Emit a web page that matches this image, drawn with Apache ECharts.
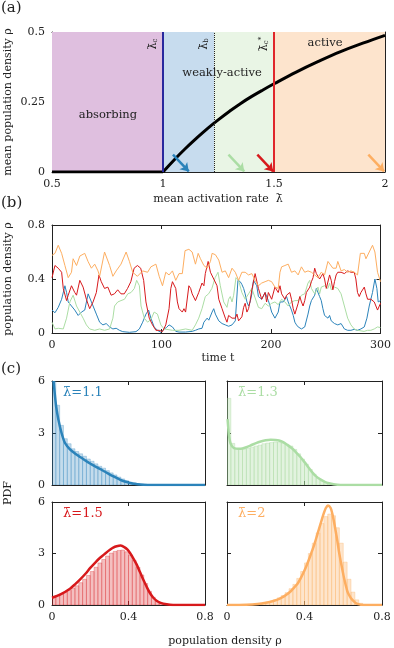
<!DOCTYPE html>
<html>
<head>
<meta charset="utf-8">
<script src="https://cdn.jsdelivr.net/npm/echarts@6/dist/echarts.min.js"></script>
<style>
  html, body { margin: 0; padding: 0; background: #fff; }
  #chart { width: 394px; height: 648px; }
</style>
</head>
<body>
<div id="chart"></div>
<script>
// ---- panel (a): mean density vs mean activation rate ----
const lambdaGrid = [0.5, 1.0, 1.05, 1.1, 1.15, 1.2, 1.25, 1.3, 1.35, 1.4, 1.45, 1.5, 1.6, 1.7, 1.8, 1.9, 2.0];
const rhoMean = [0, 0, 0.043, 0.083, 0.12, 0.155, 0.187, 0.217, 0.245, 0.27, 0.293, 0.315, 0.357, 0.395, 0.43, 0.46, 0.488];
const phaseEdges = [0.5, 1.0, 1.23, 1.5, 2.0];
const phaseColors = ['#dfbfdf', '#c7dcee', '#e9f5e5', '#fde4cd'];
const arrowLambda = [1.12, 1.37, 1.5, 2.0];

// ---- panel (b): time series, [t, rho] ----
const tsBlue = [[0,0.17],[2.7,0.15],[5.7,0.19],[8.8,0.25],[11.8,0.35],[13.3,0.3],[14.8,0.23],[17.8,0.2],[20.8,0.17],[23.9,0.13],[26.9,0.155],[29.9,0.17],[33,0.29],[36,0.23],[37.5,0.22],[40.5,0.14],[43.5,0.08],[46.5,0.06],[49.5,0.07],[52.6,0.045],[55.6,0.03],[58.6,0.035],[61.6,0.02],[64.6,0.01],[70.7,0.005],[76.7,0.01],[79.8,0.03],[82.8,0.08],[85.8,0.14],[88.2,0.17],[90.3,0.11],[93.3,0.045],[96.3,0.02],[99.4,0.005],[102.4,0.03],[104.5,0.04],[106.9,0.06],[108.5,0.07],[110,0.045],[113,0.012],[116,0.007],[122,0.007],[128,0.012],[131,0.02],[134,0.03],[137,0.035],[138.7,0.08],[141.7,0.11],[143.2,0.095],[146.2,0.155],[147.7,0.18],[149.2,0.14],[152.3,0.09],[155.3,0.07],[158.3,0.06],[161.3,0.05],[164.4,0.06],[167.4,0.09],[169.8,0.39],[171.9,0.38],[173.4,0.36],[175,0.33],[176.4,0.29],[178,0.23],[179.5,0.2],[181,0.23],[182.5,0.29],[184,0.39],[185.5,0.4],[187,0.35],[188.5,0.27],[191.5,0.25],[194.6,0.3],[196,0.31],[197.6,0.24],[199.1,0.2],[200.6,0.155],[203.6,0.11],[205.1,0.12],[206.6,0.155],[208.2,0.23],[209.7,0.24],[211.2,0.23],[212.7,0.25],[214.2,0.27],[215.7,0.23],[217.2,0.2],[218.7,0.17],[220.3,0.13],[221.8,0.08],[223.3,0.06],[224.8,0.045],[227.8,0.03],[230.8,0.045],[233.8,0.14],[235.4,0.2],[236.9,0.24],[239.9,0.28],[241.4,0.33],[242.9,0.34],[244.4,0.27],[245.9,0.24],[247.4,0.18],[248.9,0.13],[250.5,0.12],[252,0.11],[253.5,0.13],[255,0.09],[258,0.07],[261,0.06],[264,0.07],[267,0.03],[270,0.02],[273,0.02],[276,0.027],[279,0.02],[282.1,0.03],[285.2,0.045],[287.6,0.11],[289.7,0.2],[292.7,0.3],[294.9,0.4],[296.7,0.33],[297.9,0.23],[300,0.24]];
const tsGreen = [[0,0.08],[2.7,0.03],[5.7,0.035],[10.3,0.03],[13.3,0.11],[16.3,0.23],[19.3,0.28],[22.4,0.2],[25.4,0.155],[28.4,0.11],[31.4,0.06],[34.4,0.03],[39,0.02],[43.5,0.03],[48,0.02],[52.6,0.03],[55.6,0.11],[57.1,0.2],[60.1,0.23],[63,0.24],[66.2,0.25],[69.2,0.29],[72.2,0.3],[75.2,0.33],[77.3,0.39],[79.8,0.35],[81.3,0.2],[84.3,0.11],[87.3,0.08],[90.3,0.1],[93.3,0.155],[96.3,0.14],[99.4,0.06],[102.4,0.03],[104,0.02],[110,0.02],[116,0.02],[122,0.03],[128,0.02],[131,0.06],[134,0.11],[137,0.18],[140,0.27],[143,0.29],[146,0.33],[149,0.41],[151.6,0.45],[153.7,0.35],[156.8,0.23],[159.8,0.19],[161.3,0.25],[162.8,0.27],[164.4,0.23],[165.9,0.28],[168,0.41],[170.4,0.39],[173.4,0.3],[176.4,0.25],[179.5,0.29],[182.5,0.33],[185.5,0.26],[188.5,0.19],[191.5,0.18],[194.6,0.22],[197.6,0.2],[200.6,0.22],[203.6,0.23],[206.6,0.21],[209.7,0.25],[212.7,0.23],[215.7,0.2],[218.7,0.23],[221.8,0.24],[224.8,0.24],[227.8,0.28],[230.8,0.29],[233.8,0.37],[235.4,0.39],[236.9,0.33],[239.9,0.29],[242.9,0.34],[244.4,0.29],[245.9,0.34],[248.9,0.35],[252,0.33],[253.5,0.37],[255,0.32],[258,0.34],[261,0.33],[264,0.29],[267,0.2],[270,0.11],[273,0.06],[276,0.03],[279,0.02],[285,0.012],[288.2,0.02],[291.2,0.02],[294.3,0.03],[297.3,0.045],[300,0.04]];
const tsRed = [[0,0.41],[2.7,0.5],[5.7,0.48],[8.8,0.45],[10.3,0.33],[13.3,0.24],[14.8,0.28],[17.8,0.35],[20.8,0.3],[22.4,0.28],[25.4,0.39],[28.4,0.34],[31.4,0.25],[34.4,0.18],[37.5,0.23],[40.5,0.3],[42.9,0.43],[45,0.38],[48,0.33],[51,0.34],[54,0.28],[57,0.29],[60,0.32],[63,0.29],[66,0.29],[69,0.33],[72,0.38],[75,0.48],[78,0.5],[81,0.48],[83.7,0.39],[85.8,0.23],[88.8,0.11],[91.8,0.06],[94.9,0.02],[97.9,0.02],[100.9,0.01],[103.9,0.06],[106.9,0.18],[108.5,0.33],[110,0.38],[111.5,0.39],[113,0.33],[114.5,0.23],[116,0.18],[119,0.155],[120.5,0.18],[122,0.155],[125,0.35],[126.6,0.33],[128,0.29],[131,0.24],[134,0.3],[135.6,0.29],[137,0.37],[138.7,0.35],[140,0.44],[142.6,0.53],[144.7,0.45],[147.7,0.4],[150.7,0.35],[152.3,0.25],[155.3,0.18],[158.3,0.11],[159.8,0.08],[161.3,0.13],[164.4,0.11],[167.4,0.11],[168.9,0.14],[170.4,0.09],[173.4,0.12],[175,0.19],[176.4,0.22],[178,0.155],[179.5,0.18],[181,0.24],[182.5,0.32],[185.5,0.44],[188.5,0.33],[191.5,0.25],[194.6,0.3],[196,0.23],[197.6,0.3],[200.6,0.25],[203.6,0.34],[206.6,0.3],[208.2,0.35],[209.7,0.29],[212.7,0.25],[214.2,0.28],[217.2,0.3],[218.7,0.25],[220.3,0.18],[221.8,0.14],[223.3,0.15],[224.8,0.22],[226.3,0.27],[227.8,0.23],[229.3,0.2],[230.8,0.24],[232.3,0.3],[233.8,0.29],[235.4,0.34],[236.9,0.38],[238.4,0.41],[239.9,0.48],[241.4,0.44],[242.9,0.45],[244.4,0.4],[245.9,0.42],[247.4,0.44],[248.9,0.4],[250.5,0.33],[252,0.34],[253.5,0.43],[255,0.39],[256.5,0.32],[258,0.38],[259.5,0.43],[261,0.45],[264,0.45],[267,0.44],[270,0.46],[273,0.45],[276,0.45],[277.5,0.4],[279,0.3],[280.6,0.27],[282.1,0.3],[285.2,0.34],[286.7,0.29],[288.2,0.25],[291.2,0.25],[294.3,0.23],[297.3,0.17],[300,0.22]];
const tsOrange = [[0,0.575],[2.7,0.59],[5.7,0.65],[8.8,0.59],[11.8,0.5],[14.8,0.41],[17.8,0.45],[19.3,0.55],[22.4,0.5],[25.4,0.57],[29.9,0.59],[32.9,0.53],[36,0.48],[39,0.51],[42,0.46],[43.5,0.42],[48,0.6],[52.6,0.5],[55.6,0.42],[58.6,0.46],[63,0.51],[67.7,0.6],[70.7,0.53],[73.7,0.45],[78,0.42],[82.8,0.46],[87.3,0.45],[90.3,0.49],[94.9,0.51],[97.9,0.42],[100.9,0.35],[103.9,0.45],[106.9,0.43],[110,0.46],[113,0.39],[116,0.44],[119,0.44],[121.5,0.61],[125,0.62],[128,0.6],[131,0.51],[133.5,0.59],[135.6,0.55],[138.7,0.5],[141.7,0.48],[144.7,0.53],[146.2,0.59],[149.2,0.58],[152.3,0.54],[155.3,0.45],[158.3,0.46],[161.3,0.41],[164.4,0.48],[167.4,0.45],[170.4,0.39],[173.4,0.45],[176.4,0.45],[179.5,0.43],[182.5,0.44],[185.5,0.39],[188.5,0.35],[191.5,0.37],[194.6,0.38],[197.6,0.39],[200.6,0.38],[203.6,0.34],[206.6,0.33],[208.2,0.45],[209.7,0.49],[212.7,0.5],[215.7,0.51],[218.7,0.45],[221.8,0.46],[224.8,0.43],[227.8,0.49],[230.8,0.45],[233.8,0.46],[236.9,0.45],[239.9,0.43],[242.9,0.41],[245.9,0.45],[248.9,0.43],[252,0.53],[253.5,0.54],[256.5,0.48],[259.5,0.48],[261,0.53],[264,0.46],[267,0.47],[270,0.45],[273,0.46],[276,0.45],[279,0.43],[281.6,0.59],[285.2,0.59],[286.7,0.55],[289.7,0.6],[292.7,0.65],[294.9,0.6],[297.3,0.45],[300,0.38]];

// ---- panel (c): histograms (bin width 0.02 from 0) and fitted PDFs ----
const binWidth = 0.02;
const histBlue = [6.0,4.6,3.44,2.67,2.38,2.09,1.93,1.8,1.66,1.5,1.37,1.22,1.08,0.97,0.83,0.7,0.58,0.46,0.35,0.25,0.17,0.12,0.08,0.05,0.03,0.02];
const histGreen = [5.0,2.4,2.1,2.05,2.08,2.12,2.18,2.25,2.3,2.38,2.42,2.45,2.48,2.45,2.42,2.35,2.25,2.05,1.8,1.5,1.2,0.9,0.62,0.4,0.25,0.15,0.08,0.04,0.02];
const histRed = [0.5,0.55,0.65,0.75,0.85,0.98,1.12,1.3,1.5,1.72,1.95,2.2,2.45,2.65,2.85,3.02,3.12,3.18,3.2,3.1,2.9,2.6,2.2,1.75,1.25,0.8,0.45,0.22,0.1,0.05,0.02];
const histOrange = [0.01,0.01,0.01,0.01,0.01,0.02,0.02,0.04,0.07,0.1,0.15,0.22,0.3,0.42,0.55,0.72,0.95,1.2,1.55,1.95,2.45,3.0,3.6,4.2,4.75,5.15,5.3,5.2,4.5,3.6,2.5,1.5,0.75,0.3,0.1,0.03];
const fitBlue = [[0.008,6.0],[0.015,5.2],[0.022,4.5],[0.033,3.8],[0.05,3.0],[0.068,2.42],[0.094,2.05],[0.12,1.82],[0.146,1.62],[0.17,1.44],[0.199,1.24],[0.225,1.08],[0.25,0.93],[0.28,0.75],[0.303,0.6],[0.33,0.45],[0.355,0.31],[0.38,0.2],[0.408,0.12],[0.43,0.07],[0.46,0.025],[0.5,0.005],[0.55,0],[0.8,0]];
const fitGreen = [[0.003,3.8],[0.01,2.9],[0.019,2.38],[0.036,2.13],[0.07,2.09],[0.1,2.18],[0.122,2.28],[0.15,2.42],[0.174,2.51],[0.2,2.58],[0.225,2.61],[0.25,2.6],[0.268,2.57],[0.29,2.47],[0.31,2.32],[0.335,2.12],[0.355,1.9],[0.38,1.6],[0.4,1.32],[0.42,1.02],[0.44,0.73],[0.46,0.5],[0.484,0.31],[0.505,0.18],[0.527,0.1],[0.55,0.045],[0.57,0.02],[0.6,0.005],[0.65,0],[0.8,0]];
const fitRed = [[0,0.42],[0.042,0.6],[0.094,0.95],[0.12,1.2],[0.146,1.48],[0.175,1.82],[0.2,2.16],[0.225,2.46],[0.25,2.74],[0.28,3.02],[0.303,3.22],[0.32,3.34],[0.338,3.42],[0.359,3.46],[0.38,3.36],[0.395,3.22],[0.408,3.03],[0.425,2.72],[0.443,2.35],[0.46,1.92],[0.477,1.48],[0.495,1.06],[0.512,0.7],[0.53,0.42],[0.547,0.25],[0.565,0.14],[0.582,0.08],[0.6,0.04],[0.617,0.02],[0.65,0.005],[0.7,0],[0.8,0]];
const fitOrange = [[0,0],[0.1,0.02],[0.157,0.06],[0.2,0.13],[0.243,0.25],[0.27,0.36],[0.294,0.5],[0.31,0.63],[0.329,0.8],[0.345,1.0],[0.363,1.22],[0.38,1.55],[0.398,1.96],[0.415,2.42],[0.432,2.93],[0.45,3.5],[0.466,4.1],[0.48,4.62],[0.492,5.07],[0.502,5.42],[0.51,5.65],[0.521,5.8],[0.535,5.65],[0.544,5.3],[0.552,4.87],[0.561,4.3],[0.57,3.7],[0.578,3.1],[0.587,2.54],[0.596,2.03],[0.604,1.57],[0.613,1.15],[0.621,0.8],[0.63,0.58],[0.639,0.41],[0.652,0.24],[0.664,0.12],[0.677,0.05],[0.69,0.02],[0.72,0],[0.8,0]];

const FONT = 'DejaVu Serif';
const INK = '#222';
const C_BLUE = '#2b83ba', C_GREEN = '#abdda4', C_RED = '#d7191c', C_ORANGE = '#fdae61';

const grids = [
  { left: 52, top: 32, width: 333, height: 140 },   // (a)
  { left: 52, top: 225, width: 331, height: 108 },  // (b)
  { left: 52, top: 381, width: 153, height: 104 },  // (c) 1.1
  { left: 227, top: 381, width: 155, height: 104 }, // (c) 1.3
  { left: 52, top: 502, width: 153, height: 103 },  // (c) 1.5
  { left: 227, top: 502, width: 155, height: 103 }  // (c) 2
];
// [min, max, interval, showLabels]
const xRanges = [[0.5, 2, 0.5, true], [0, 300, 100, true], [0, 0.8, 0.4, false], [0, 0.8, 0.4, false], [0, 0.8, 0.4, true], [0, 0.8, 0.4, true]];
const yRanges = [[0, 0.5, 0.25, true], [0, 0.8, 0.4, true], [0, 6, 3, true], [0, 6, 3, false], [0, 6, 3, true], [0, 6, 3, false]];

const makeAxis = (gridIndex, position, r, showLabel) => ({
  type: 'value', gridIndex, position,
  min: r[0], max: r[1], interval: r[2],
  axisLine: { show: true, onZero: false, lineStyle: { color: INK, width: 1 } },
  axisTick: { show: true, inside: true, length: 4, lineStyle: { color: INK } },
  axisLabel: { show: showLabel, color: INK, fontFamily: FONT, fontSize: 11, margin: 7 },
  splitLine: { show: false }
});

const xAxes = [], yAxes = [];
grids.forEach((g, i) => {
  xAxes.push(makeAxis(i, 'bottom', xRanges[i], xRanges[i][3]));
  xAxes.push(makeAxis(i, 'top', xRanges[i], false));
  yAxes.push(makeAxis(i, 'left', yRanges[i], yRanges[i][3]));
  yAxes.push(makeAxis(i, 'right', yRanges[i], false));
});

const series = [];

// (a) phase regions
series.push({
  type: 'line', xAxisIndex: 0, yAxisIndex: 0, z: 1, data: [],
  markArea: {
    silent: true,
    data: phaseColors.map((c, i) => [
      { xAxis: phaseEdges[i], itemStyle: { color: c } },
      { xAxis: phaseEdges[i + 1] }
    ])
  },
  markLine: {
    silent: true, symbol: 'none', label: { show: false }, animation: false,
    data: [
      { xAxis: 1.0, lineStyle: { color: '#28289e', width: 2, type: 'solid' } },
      { xAxis: 1.23, lineStyle: { color: '#222', width: 1, type: 'dotted' } },
      { xAxis: 1.5, lineStyle: { color: '#e0262b', width: 2, type: 'solid' } }
    ]
  }
});
// (a) mean density: flat absorbing part, then the rising branch
const meanPts = lambdaGrid.map((l, i) => [l, rhoMean[i]]);
series.push({
  type: 'line', xAxisIndex: 0, yAxisIndex: 0, z: 3,
  data: meanPts.filter(p => p[0] <= 1.0), showSymbol: false,
  lineStyle: { color: '#000', width: 3 }
});
series.push({
  type: 'line', xAxisIndex: 0, yAxisIndex: 0, z: 3,
  data: meanPts.filter(p => p[0] >= 1.0), showSymbol: false, smooth: 0.4,
  lineStyle: { color: '#000', width: 3 }
});
// (a) arrows marking the four lambda values
const arrowColors = [C_BLUE, C_GREEN, C_RED, C_ORANGE];
series.push({
  type: 'line', xAxisIndex: 0, yAxisIndex: 0, z: 4, data: [],
  markLine: {
    silent: true, symbol: ['none', 'arrow'], symbolSize: 8, label: { show: false }, animation: false,
    data: arrowLambda.map((l, i) => [
      { coord: [l - 0.075, 0.062], lineStyle: { color: arrowColors[i], width: 2.5, type: 'solid' } },
      { coord: [l - 0.004, 0.002] }
    ])
  }
});

// (b) time series
[[tsBlue, C_BLUE], [tsGreen, C_GREEN], [tsRed, C_RED], [tsOrange, C_ORANGE]].forEach(([d, c]) => {
  series.push({
    type: 'line', xAxisIndex: 2, yAxisIndex: 2, data: d, showSymbol: false,
    lineStyle: { color: c, width: 1 }
  });
});

// (c) histograms + fits
const panelsC = [
  [histBlue, fitBlue, C_BLUE, 'rgba(43,131,186,0.28)', 'rgba(43,131,186,0.4)'],
  [histGreen, fitGreen, C_GREEN, 'rgba(171,221,164,0.35)', 'rgba(150,210,140,0.4)'],
  [histRed, fitRed, C_RED, 'rgba(215,25,28,0.28)', 'rgba(215,25,28,0.4)'],
  [histOrange, fitOrange, C_ORANGE, 'rgba(253,174,97,0.32)', 'rgba(253,174,97,0.45)']
];
panelsC.forEach(([hist, fit, c, fill, stroke], k) => {
  const ax = 4 + 2 * k;
  series.push({
    type: 'custom', xAxisIndex: ax, yAxisIndex: ax, clip: true, z: 2,
    encode: { x: 0, y: 1 },
    data: hist.map((h, i) => [i * binWidth, h]).filter(d => d[1] > 0),
    renderItem: (params, api) => {
      const x0 = api.value(0), h = api.value(1);
      const a = api.coord([x0, 0]);
      const b = api.coord([x0 + binWidth, h]);
      return {
        type: 'rect',
        shape: { x: a[0], y: b[1], width: b[0] - a[0], height: a[1] - b[1] },
        style: { fill, stroke, lineWidth: 0.7 }
      };
    }
  });
  series.push({
    type: 'line', xAxisIndex: ax, yAxisIndex: ax, z: 3, data: fit, showSymbol: false,
    smooth: 0.25, lineStyle: { color: c, width: 2.5 }
  });
});

const chart = echarts.init(document.getElementById('chart'), null, { renderer: 'canvas' });
chart.setOption({
  animation: false,
  backgroundColor: '#fff',
  grid: grids.map(g => Object.assign({ containLabel: false }, g)),
  xAxis: xAxes,
  yAxis: yAxes,
  series
});

// texts placed through the axes' own scales
const px = (gridIdx, pt) => chart.convertToPixel({ xAxisIndex: 2 * gridIdx, yAxisIndex: 2 * gridIdx }, pt);
const txt = (x, y, text, opts = {}) => ({
  type: 'text', x, y, rotation: opts.rotation || 0, z: 100,
  style: Object.assign({
    text, fontFamily: FONT, fontSize: 11, fill: INK, align: 'center', verticalAlign: 'middle'
  }, opts.style || {})
});
const lam = 'λ\u0304';
const critRich = {
  m: { fontFamily: FONT, fontSize: 11, fill: INK },
  s: { fontFamily: FONT, fontSize: 7, fill: INK, padding: [5, 0, 0, 0] },
  p: { fontFamily: FONT, fontSize: 7, fill: INK, padding: [0, 0, 5, 0] }
};
const critLabels = [[1.0, '{m|' + lam + '}{s|c}'], [1.23, '{m|' + lam + '}{s|b}'], [1.5, '{m|' + lam + '}{s|c}{p|*}']];

const graphics = [
  txt(1, 1, '(a)', { style: { fontSize: 15, align: 'left', verticalAlign: 'top' } }),
  txt(1, 196, '(b)', { style: { fontSize: 15, align: 'left', verticalAlign: 'top' } }),
  txt(1, 362, '(c)', { style: { fontSize: 15, align: 'left', verticalAlign: 'top' } }),
  txt(8, 102, 'mean population density ρ', { rotation: Math.PI / 2 }),
  txt(218, 199, 'mean activation rate  ' + lam),
  txt(8, 279, 'population density ρ', { rotation: Math.PI / 2 }),
  txt(218, 358, 'time t'),
  txt(8, 493, 'PDF', { rotation: Math.PI / 2 }),
  txt(225, 641, 'population density ρ')
];
[[0.752, 0.204, 'absorbing'], [1.266, 0.354, 'weakly-active'], [1.73, 0.46, 'active']].forEach(([l, r, t]) => {
  const p = px(0, [l, r]);
  graphics.push(txt(p[0], p[1], t, { style: { fontSize: 11.5 } }));
});
critLabels.forEach(([l, t]) => {
  const p = px(0, [l, 0.5]);
  graphics.push({
    type: 'text', x: p[0] - 10, y: p[1] + 12, rotation: Math.PI / 2, z: 100,
    style: { text: t, rich: critRich, align: 'center', verticalAlign: 'middle' }
  });
});
[['1.1', C_BLUE], ['1.3', C_GREEN], ['1.5', C_RED], ['2', C_ORANGE]].forEach(([v, c], k) => {
  const g = grids[2 + k];
  graphics.push(txt(g.left + 11, g.top + 5, lam + '=' + v, { style: { fontSize: 13, fill: c, align: 'left', verticalAlign: 'top' } }));
});
chart.setOption({ graphic: graphics });
</script>
</body>
</html>
